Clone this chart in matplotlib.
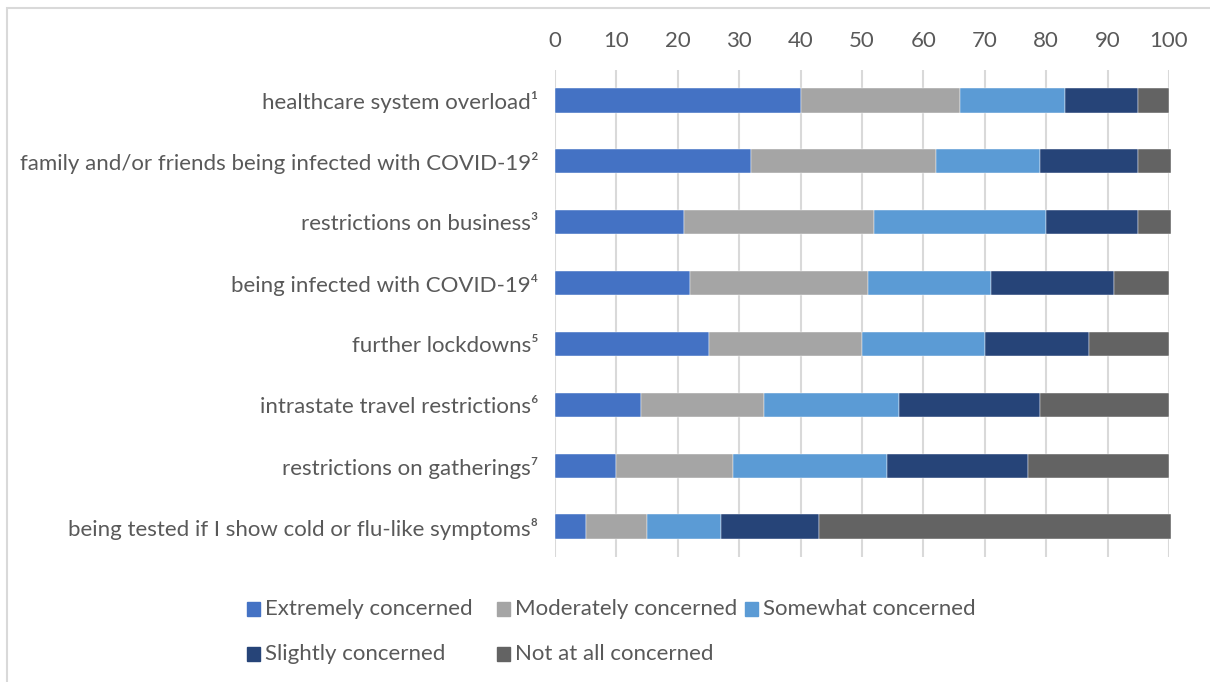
import matplotlib
matplotlib.use("Agg")
import matplotlib.pyplot as plt
from matplotlib.patches import Rectangle
import numpy as np

plt.rcParams['font.family'] = ['Lato', 'DejaVu Sans']

categories = [
    "healthcare system overload¹",
    "family and/or friends being infected with COVID-19²",
    "restrictions on business³",
    "being infected with COVID-19⁴",
    "further lockdowns⁵",
    "intrastate travel restrictions⁶",
    "restrictions on gatherings⁷",
    "being tested if I show cold or flu-like symptoms⁸",
]
series_names = [
    "Extremely concerned",
    "Moderately concerned",
    "Somewhat concerned",
    "Slightly concerned",
    "Not at all concerned",
]
extremely = [40, 32, 21, 22, 25, 14, 10, 5]
moderately = [26, 30, 31, 29, 25, 20, 19, 10]
somewhat = [17, 17, 28, 20, 20, 22, 25, 12]
slightly = [12, 16, 15, 20, 17, 23, 23, 16]
not_at_all = [5, 5.3, 5.3, 9, 13, 21, 23, 57.3]
x_ticks = [0, 10, 20, 30, 40, 50, 60, 70, 80, 90, 100]

colors = ["#4472C4", "#A5A5A5", "#5B9BD5", "#264478", "#636363"]
text_color = "#595959"
grid_color = "#D9D9D9"

W, H = 1210, 682
fig = plt.figure(figsize=(W / 100, H / 100), dpi=100)

# chart frame
fig.patches.append(Rectangle((7 / W, -0.1), 1.2, (H - 8) / H + 0.1,
                             transform=fig.transFigure, fill=False,
                             edgecolor=grid_color, linewidth=1.5))

ax = fig.add_axes([555 / W, 1 - 557 / H, (1169 - 555) / W, (557 - 70) / H])

all_series = [extremely, moderately, somewhat, slightly, not_at_all]
y = np.arange(len(categories))
left = np.zeros(len(categories))
for vals, col, name in zip(all_series, colors, series_names):
    v = np.array(vals, dtype=float)
    bars = ax.barh(y, v, left=left, height=0.4, color=col, label=name,
                   edgecolor="white", linewidth=0.3, zorder=3)
    for b in bars:
        b.set_clip_on(False)
    left += v

ax.set_ylim(len(categories) - 0.5, -0.5)
ax.set_xlim(0, 100)
ax.set_xticks(x_ticks)
ax.xaxis.tick_top()
ax.set_yticks(y)
ax.set_yticklabels(categories)
ax.tick_params(axis="x", length=0, pad=14, labelsize=16, labelcolor=text_color)
ax.tick_params(axis="y", length=0, pad=12, labelsize=16, labelcolor=text_color)
ax.grid(axis="x", color=grid_color, linewidth=1.5, zorder=0)
ax.set_axisbelow(True)
for s in ax.spines.values():
    s.set_visible(False)

# legend laid out in two rows
legend_pos = [(247, 609), (497, 609), (745, 609), (247, 654), (497, 654)]
for (px, py), col, name in zip(legend_pos, colors, series_names):
    fig.patches.append(Rectangle((px / W, 1 - (py + 7) / H), 13 / W, 14 / H,
                                 transform=fig.transFigure, color=col))
    fig.text((px + 18) / W, 1 - py / H, name, fontsize=16, color=text_color,
             va="center", ha="left")

fig.savefig("out.png", dpi=100)
